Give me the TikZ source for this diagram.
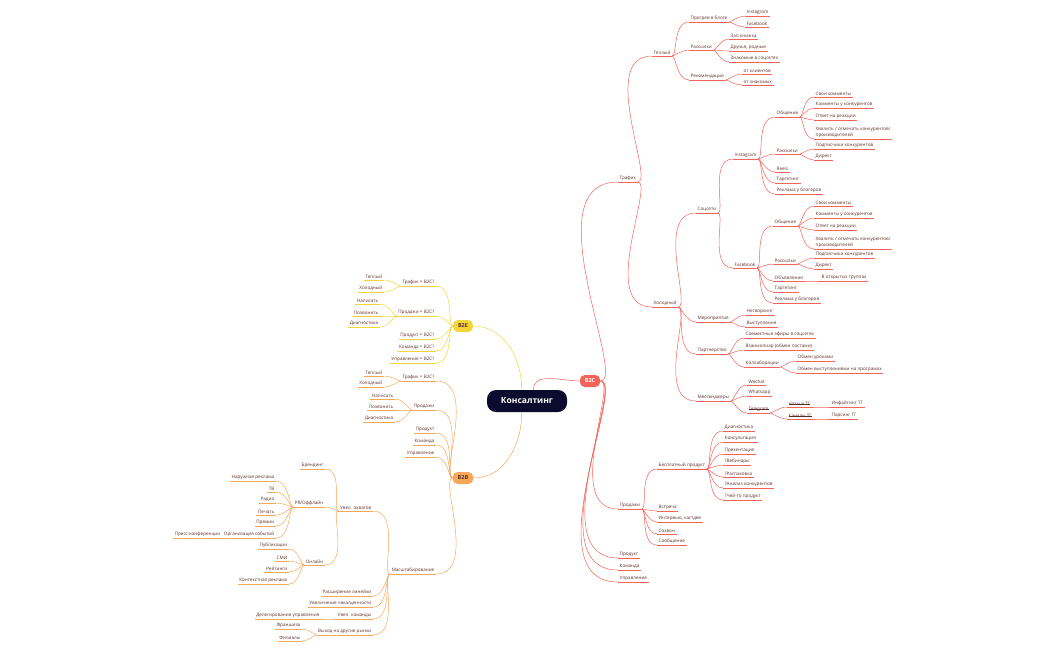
\documentclass[tikz,border=0pt]{standalone}
\usepackage{fontspec}
\setmainfont{Open Sans}
\begin{document}
\definecolor{cR}{HTML}{F2645A}
\definecolor{cO}{HTML}{F5A85A}
\definecolor{cY}{HTML}{F3D43A}
\definecolor{txt}{HTML}{5A2E28}
\definecolor{navy}{HTML}{0B0B2E}
\begin{tikzpicture}[x=1pt,y=-1pt,
 lf/.style={inner xsep=1.5pt, inner ysep=1.1pt, font=\fontsize{4.6}{5.6}\selectfont, text=txt, align=left},
 R/.style={lf, anchor=south west, append after command={(\tikzlastnode.south west) edge[draw=cR, line width=0.5pt] (\tikzlastnode.south east)}},
 O/.style={lf, anchor=south east, align=right, append after command={(\tikzlastnode.south west) edge[draw=cO, line width=0.5pt] (\tikzlastnode.south east)}},
 Y/.style={lf, anchor=south east, align=right, append after command={(\tikzlastnode.south west) edge[draw=cY, line width=0.5pt] (\tikzlastnode.south east)}},
 strike/.style={append after command={([xshift=1.5pt]\tikzlastnode.west) edge[draw=txt, line width=0.4pt] ([xshift=-1.5pt]\tikzlastnode.east)}},
 lr/.style={draw=cR, line width=0.5pt},
 lo/.style={draw=cO, line width=0.5pt},
 ly/.style={draw=cY, line width=0.5pt},
 mm/.style={out looseness=0.35, in looseness=1.1},
 hub/.style={rounded corners=5pt, minimum height=12pt, font=\bfseries\fontsize{5.5}{6}\selectfont, inner xsep=5pt}
]
\newcommand\Rc[2]{\draw[lr] (#1.south east) to[out=0,in=180,mm] (#2.south west);}
\newcommand\Oc[2]{\draw[lo] (#1.south west) to[out=180,in=0,mm] (#2.south east);}
\newcommand\Yc[2]{\draw[ly] (#1.south west) to[out=180,in=0,mm] (#2.south east);}
\useasboundingbox (0,0) rectangle (1050,651);

% hubs
\node[rounded corners=9pt, fill=navy, text=white, minimum height=22pt, minimum width=80pt, font=\bfseries\fontsize{8.5}{9}\selectfont] (root) at (527,401) {Консалтинг};
\node[hub, fill=cR, text=white] (b2c) at (590,381) {B2C};
\node[hub, fill=cY, text=txt] (b2e) at (463,326) {B2E};
\node[hub, fill=cO, text=txt] (b2b) at (463,478) {B2B};
\draw[lr] (root.60) to[out=90,in=180] (b2c.west);
\draw[ly] (root.115) to[out=90,in=0] (b2e.east);
\draw[lo] (root.245) to[out=270,in=0] (b2b.east);

% ===== B2C =====
\node[R] (traf) at (618,182) {Трафик};
\node[R] (prod) at (618,509) {Продажи};
\node[R] (prd) at (618,558) {Продукт};
\node[R] (kom) at (618,570) {Команда};
\node[R] (upr) at (618,582) {Управление};
\foreach \c in {traf,prod,prd,kom,upr}{\draw[lr] (b2c.east) to[out=0,in=180,mm] (\c.south west);}

\node[R] (tep) at (652,56) {Теплый};
\node[R] (hol) at (652,307) {Холодный};
\Rc{traf}{tep}\Rc{traf}{hol}

\node[R] (prog) at (689,22) {Прогрев в блоге};
\node[R] (rass) at (689,50) {Рассылки};
\node[R] (rek) at (689,80) {Рекомендации};
\Rc{tep}{prog}\Rc{tep}{rass}\Rc{tep}{rek}
\node[R] (pi) at (745,16) {Instagram};
\node[R] (pf) at (745,27) {Facebook};
\Rc{prog}{pi}\Rc{prog}{pf}
\node[R] (r1) at (729,39) {Зап книжка};
\node[R] (r2) at (729,51) {Друзья, родные};
\node[R] (r3) at (729,62) {Знакомые в соцсетях};
\Rc{rass}{r1}\Rc{rass}{r2}\Rc{rass}{r3}
\node[R] (k1) at (742,74) {от клиентов};
\node[R] (k2) at (742,85) {от знакомых};
\Rc{rek}{k1}\Rc{rek}{k2}

\node[R] (soc) at (696,213) {Соцсети};
\node[R] (mer) at (696,322) {Мероприятия};
\node[R] (par) at (696,354) {Партнерство};
\node[R] (mes) at (696,401) {Мессенджеры};
\Rc{hol}{soc}\Rc{hol}{mer}\Rc{hol}{par}\Rc{hol}{mes}

\node[R] (ig) at (733,159) {Instagram};
\node[R] (fb) at (733,268) {Facebook};
\Rc{soc}{ig}\Rc{soc}{fb}

\node[R] (io) at (775,117) {Общение};
\node[R] (ir) at (775,154) {Рассылки};
\node[R] (ire) at (775,172) {Reels};
\node[R] (it) at (775,183) {Таргетинг};
\node[R] (ib) at (775,194) {Реклама у блогеров};
\Rc{ig}{io}\Rc{ig}{ir}\Rc{ig}{ire}\Rc{ig}{it}\Rc{ig}{ib}
\node[R] (io1) at (814,97) {Свои комменты};
\node[R] (io2) at (814,108) {Комменты у конкурентов};
\node[R] (io3) at (814,120) {Ответ на реакции};
\node[R] (io4) at (814,139) {Хвалить / отмечать конкурентов/\\производителей};
\Rc{io}{io1}\Rc{io}{io2}\Rc{io}{io3}\Rc{io}{io4}
\node[R] (ir1) at (814,149) {Подписчики конкурентов};
\node[R] (ir2) at (814,160) {Директ};
\Rc{ir}{ir1}\Rc{ir}{ir2}

\node[R] (fo) at (773,226) {Общение};
\node[R] (fr) at (773,264) {Рассылки};
\node[R] (fa) at (773,281) {Объявления};
\node[R] (ft) at (773,292) {Таргетинг};
\node[R] (fbb) at (773,303) {Реклама у блогеров};
\Rc{fb}{fo}\Rc{fb}{fr}\Rc{fb}{fa}\Rc{fb}{ft}\Rc{fb}{fbb}
\node[R] (fo1) at (814,206) {Свои комменты};
\node[R] (fo2) at (814,218) {Комменты у конкурентов};
\node[R] (fo3) at (814,230) {Ответ на реакции};
\node[R] (fo4) at (814,249) {Хвалить / отмечать конкурентов/\\производителей};
\Rc{fo}{fo1}\Rc{fo}{fo2}\Rc{fo}{fo3}\Rc{fo}{fo4}
\node[R] (fr1) at (814,258) {Подписчики конкурентов};
\node[R] (fr2) at (814,269) {Директ};
\Rc{fr}{fr1}\Rc{fr}{fr2}
\node[R] (fa1) at (820,281) {В открытых группах};
\Rc{fa}{fa1}

\node[R] (m1) at (745,315) {Нетворкинг};
\node[R] (m2) at (745,327) {Выступления};
\Rc{mer}{m1}\Rc{mer}{m2}
\node[R] (p1) at (744,338) {Совместные эфиры в соцсетях};
\node[R] (p2) at (744,350) {Взаимопиар (обмен постами)};
\node[R] (p3) at (744,367) {Коллаборации};
\Rc{par}{p1}\Rc{par}{p2}\Rc{par}{p3}
\node[R] (c1) at (796,361) {Обмен уроками};
\node[R] (c2) at (796,373) {Обмен выступлениями на програмах};
\Rc{p3}{c1}\Rc{p3}{c2}
\node[R] (w1) at (747,385) {Wechat};
\node[R] (w2) at (747,396) {Whatsapp};
\node[R, strike] (w3) at (747,413) {Telegram};
\Rc{mes}{w1}\Rc{mes}{w2}\Rc{mes}{w3}
\node[R, strike] (t1) at (787,407) {Чаты в ТГ};
\node[R, strike] (t2) at (787,419) {Каналы ТГ};
\Rc{w3}{t1}\Rc{w3}{t2}
\node[R] (t1a) at (830,407) {Инфайтинг ТГ};
\node[R] (t2a) at (830,419) {Парсинг ТГ};
\Rc{t1}{t1a}\Rc{t2}{t2a}

\node[R] (bp) at (657,469) {Бесплатный продукт};
\node[R] (s1) at (657,511) {Встреча};
\node[R] (s2) at (657,522) {Интервью, кастдев};
\node[R] (s3) at (657,534) {Созвон};
\node[R] (s4) at (657,545) {Сообщение};
\Rc{prod}{bp}\Rc{prod}{s1}\Rc{prod}{s2}\Rc{prod}{s3}\Rc{prod}{s4}
\node[R] (b1) at (723,431) {Диагностика};
\node[R] (b2) at (723,442) {Консультация};
\node[R] (b3) at (723,454) {Презентация};
\node[R] (b4) at (723,465) {?Вебинары};
\node[R] (b5) at (723,477) {?Распаковка};
\node[R] (b6) at (723,488) {?Анализ конкурентов};
\node[R] (b7) at (723,500) {?Чей-то продукт};
\foreach \c in {b1,b2,b3,b4,b5,b6,b7}{\Rc{bp}{\c}}

% ===== B2E =====
\node[Y] (et) at (436,286) {Трафик = B2C?};
\node[Y] (ep) at (436,316) {Продажи = B2C?};
\node[Y] (epr) at (436,339) {Продукт = B2C?};
\node[Y] (ek) at (436,351) {Команда = B2C?};
\node[Y] (eu) at (436,363) {Управление = B2C?};
\foreach \c in {et,ep,epr,ek,eu}{\draw[ly] (b2e.west) to[out=180,in=0,mm] (\c.south east);}
\node[Y] (et1) at (384,280) {Теплый};
\node[Y] (et2) at (384,292) {Холодный};
\Yc{et}{et1}\Yc{et}{et2}
\node[Y] (ep1) at (380,304) {Написать};
\node[Y] (ep2) at (380,316) {Позвонить};
\node[Y] (ep3) at (380,327) {Диагностика};
\Yc{ep}{ep1}\Yc{ep}{ep2}\Yc{ep}{ep3}

% ===== B2B =====
\node[O] (bt) at (436,381) {Трафик = B2C?};
\node[O] (bpp) at (436,410) {Продажи};
\node[O] (bpr) at (436,433) {Продукт};
\node[O] (bk) at (436,445) {Команда};
\node[O] (bu) at (436,457) {Управление};
\node[O] (bm) at (436,574) {Масштабирование};
\foreach \c in {bt,bpp,bpr,bk,bu,bm}{\draw[lo] (b2b.west) to[out=180,in=0,mm] (\c.south east);}
\node[O] (bt1) at (384,376) {Теплый};
\node[O] (bt2) at (384,387) {Холодный};
\Oc{bt}{bt1}\Oc{bt}{bt2}
\node[O] (bp1) at (395,399) {Написать};
\node[O] (bp2) at (395,410) {Позвонить};
\node[O] (bp3) at (395,422) {Диагностика};
\Oc{bpp}{bp1}\Oc{bpp}{bp2}\Oc{bpp}{bp3}

\node[O] (uo) at (373,511) {Увел. охватов};
\node[O] (rl) at (373,596) {Расширение линейки};
\node[O] (uc) at (373,607) {Увеличение чека/ценности};
\node[O] (uk) at (373,619) {Увел. команды};
\node[O] (vr) at (373,635) {Выход на другие рынки};
\Oc{bm}{uo}\Oc{bm}{rl}\Oc{bm}{uc}\Oc{bm}{uk}\Oc{bm}{vr}
\node[O] (br) at (325,469) {Брендинг};
\node[O] (pr) at (325,507) {PR/Оффлайн};
\node[O] (on) at (325,565) {Онлайн};
\Oc{uo}{br}\Oc{uo}{pr}\Oc{uo}{on}
\node[O] (pr1) at (276,481) {Наружная реклама};
\node[O] (pr2) at (276,492) {ТВ};
\node[O] (pr3) at (276,503) {Радио};
\node[O] (pr4) at (276,515) {Печать};
\node[O] (pr5) at (276,526) {Премии};
\node[O] (pr6) at (276,538) {Организация событий};
\foreach \c in {pr1,pr2,pr3,pr4,pr5,pr6}{\Oc{pr}{\c}}
\node[O] (pr7) at (222,538) {Пресс-конференции};
\Oc{pr6}{pr7}
\node[O] (on1) at (289,549) {Публикации};
\node[O] (on2) at (289,561) {СМИ};
\node[O] (on3) at (289,572) {Рейтинги};
\node[O] (on4) at (289,584) {Контекстная реклама};
\foreach \c in {on1,on2,on3,on4}{\Oc{on}{\c}}
\node[O] (uk1) at (321,619) {Делегирование управления};
\Oc{uk}{uk1}
\node[O] (vr1) at (302,629) {Франшиза};
\node[O] (vr2) at (302,641) {Филиалы};
\Oc{vr}{vr1}\Oc{vr}{vr2}
\end{tikzpicture}
\end{document}
